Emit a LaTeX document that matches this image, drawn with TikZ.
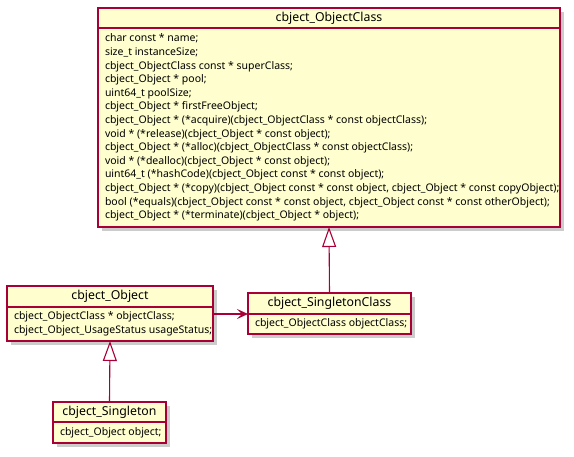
\documentclass[tikz,border=0pt]{standalone}
\usepackage{fontspec}
\setmainfont{Noto Sans}
\usepackage{tikz}
\usetikzlibrary{arrows.meta}
\usetikzlibrary{positioning,shadows}
\definecolor{umlfill}{HTML}{FEFECE}
\definecolor{umlline}{HTML}{A80036}
\begin{document}
\begin{tikzpicture}[x=1pt, y=-1pt, line width=1.1pt]
		\tikzstyle{box}=[draw=umlline, fill=umlfill, inner sep=0pt, outer sep=0pt,
			drop shadow={shadow xshift=4pt, shadow yshift=-4pt, fill=black, opacity=0.2}]
		\tikzstyle{head}=[box, font=\fontsize{12.3}{14}\selectfont]
		\tikzstyle{body}=[box, font=\fontsize{10.5}{13.6}\selectfont]
		\tikzstyle{inherit}=[draw=umlline, -{Triangle[open, length=20pt, width=14pt, fill=white]}]
		\tikzstyle{assoc}=[draw=umlline, -{Stealth[length=11pt, width=10pt, inset=5pt]}]
		\useasboundingbox (0,0) rectangle (574,456);
		% classes
		\node[head, minimum width=462pt, minimum height=20pt, anchor=north west] (ochead) at (98,8) {cbject\_ObjectClass};
		\node[body, minimum width=462pt, minimum height=199pt, below=0pt of ochead] (ocbody)
		{\makebox[448pt][l]{\begin{tabular}{@{}l@{}}
		char const * name;\\
		size\_t instanceSize;\\
		cbject\_ObjectClass const * superClass;\\
		cbject\_Object * pool;\\
		uint64\_t poolSize;\\
		cbject\_Object * firstFreeObject;\\
		cbject\_Object * (*acquire)(cbject\_ObjectClass * const objectClass);\\
		void * (*release)(cbject\_Object * const object);\\
		cbject\_Object * (*alloc)(cbject\_ObjectClass * const objectClass);\\
		void * (*dealloc)(cbject\_Object * const object);\\
		uint64\_t (*hashCode)(cbject\_Object const * const object);\\
		cbject\_Object * (*copy)(cbject\_Object const * const object, cbject\_Object * const copyObject);\\
		bool (*equals)(cbject\_Object const * const object, cbject\_Object const * const otherObject);\\
		cbject\_Object * (*terminate)(cbject\_Object * object);
		\end{tabular}}};
		\node[head, minimum width=206pt, minimum height=21pt, anchor=north west] (ohead) at (7,286) {cbject\_Object};
		\node[body, minimum width=206pt, minimum height=34pt, below=0pt of ohead] (obody)
		{\makebox[192pt][l]{\begin{tabular}{@{}l@{}}
		cbject\_ObjectClass * objectClass;\\
		cbject\_Object\_UsageStatus usageStatus;
		\end{tabular}}};
		\node[head, minimum width=163pt, minimum height=21pt, anchor=north west] (schead) at (248,293) {cbject\_SingletonClass};
		\node[body, minimum width=163pt, minimum height=20pt, below=0pt of schead] (scbody)
		{\makebox[149pt][l]{cbject\_ObjectClass objectClass;}};
		\node[head, minimum width=113pt, minimum height=20pt, anchor=north west] (shead) at (53,402) {cbject\_Singleton};
		\node[body, minimum width=113pt, minimum height=21pt, below=0pt of shead] (sbody)
		{\makebox[99pt][l]{cbject\_Object object;}};
		% relations
		\draw[inherit] (schead.north) -- (ocbody.south);
		\draw[inherit] (shead.north) -- (obody.south);
		\draw[assoc] (obody.east |- scbody.north west) -- (scbody.north west);
	\end{tikzpicture}
\end{document}
